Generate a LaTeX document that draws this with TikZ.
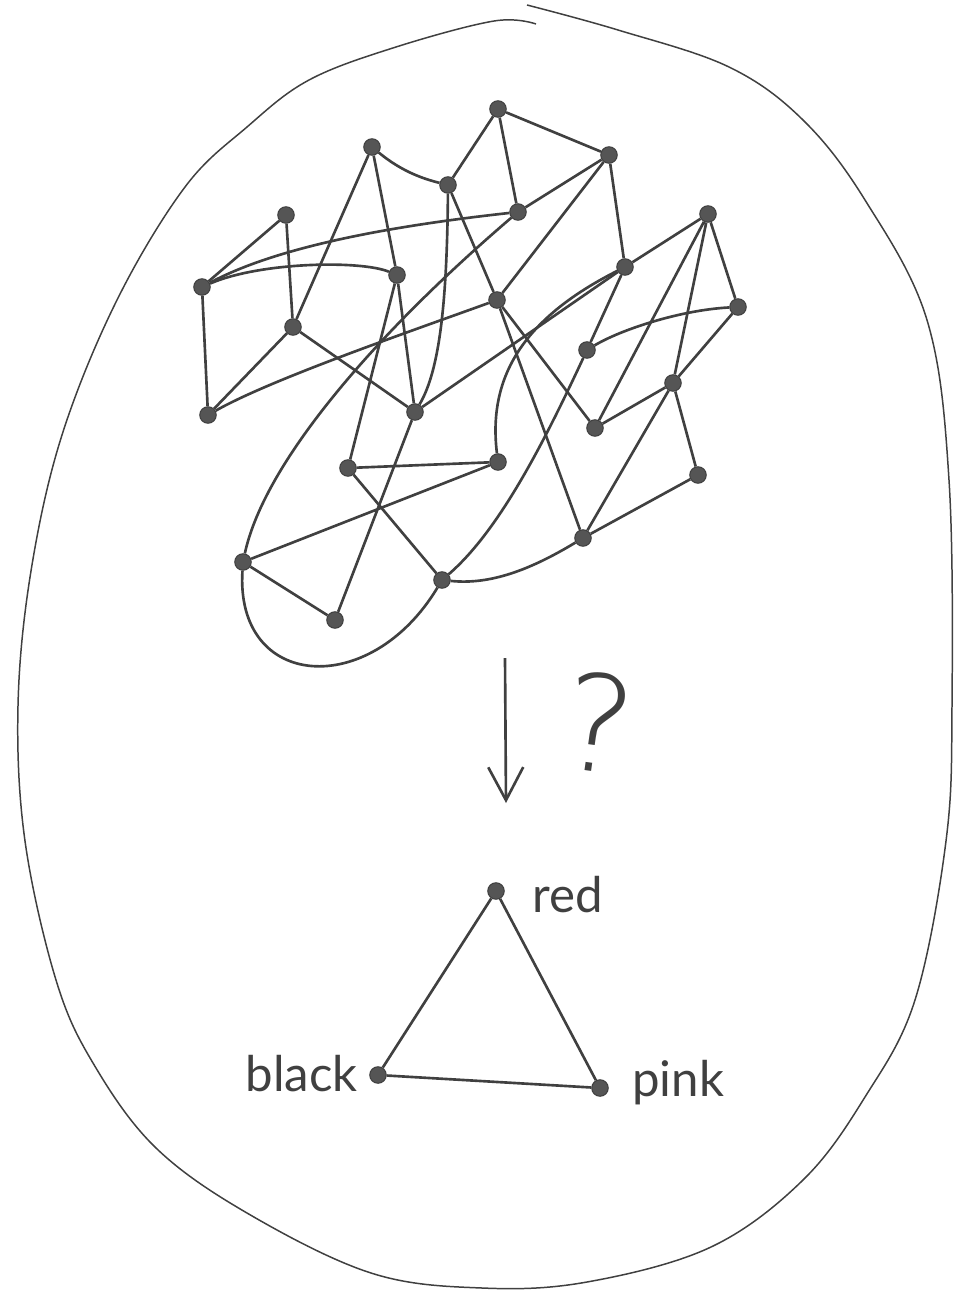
\documentclass[tikz,border=0pt]{standalone}
\usepackage{fontspec}
\setmainfont{Lato}
\newfontfamily\thinfont{DejaVu Sans ExtraLight}
\usepackage{xcolor}
\usetikzlibrary{arrows.meta}
\definecolor{ink}{HTML}{404040}
\definecolor{dotc}{HTML}{555555}
\tikzset{
  vtx/.style={circle, fill=dotc, draw=ink, line width=0.6pt, inner sep=0pt,
              minimum size=0.33cm},
  Eg/.style={draw=ink, line width=1.5pt},
  Rim/.style={draw=ink, line width=0.85pt},
  Lab/.style={font=\fontsize{28}{32}\selectfont, text=ink, inner sep=0pt},
  Harr/.style={-{Straight Barb[length=0.66cm, width=0.7cm, line width=1.5pt]}, Eg}
}

\begin{document}
\begin{tikzpicture}[x=0.02cm, y=-0.02cm]
  \useasboundingbox (0,0) rectangle (959,1292);

  \draw[Rim] plot[smooth, tension=0.6] coordinates {(527,5) (618,30) (729,67)
    (803,120) (865,200) (927,320) (949,480) (952,706) (946,841) (915,1000)
    (865,1097) (803,1180) (711,1247) (587,1282) (482,1288) (371,1273)
    (247,1213) (155,1147) (93,1063) (56,980) (25,841) (18,706) (31,571)
    (62,435) (117,300) (185,187) (247,127) (309,80) (396,47) (494,21) (536,24)};

  \node[vtx] (n1) at (286,215) {};
  \node[vtx] (n2) at (372,147) {};
  \node[vtx] (n3) at (448,185) {};
  \node[vtx] (n4) at (498,109) {};
  \node[vtx] (n5) at (518,212) {};
  \node[vtx] (n6) at (609,155) {};
  \node[vtx] (n7) at (708,214) {};
  \node[vtx] (n8) at (202,287) {};
  \node[vtx] (n9) at (397,275) {};
  \node[vtx] (n10) at (625,267) {};
  \node[vtx] (n11) at (497,300) {};
  \node[vtx] (n12) at (738,307) {};
  \node[vtx] (n13) at (293,327) {};
  \node[vtx] (n14) at (587,350) {};
  \node[vtx] (n15) at (673,383) {};
  \node[vtx] (n16) at (208,415) {};
  \node[vtx] (n17) at (415,412) {};
  \node[vtx] (n18) at (595,428) {};
  \node[vtx] (n19) at (348,468) {};
  \node[vtx] (n20) at (498,462) {};
  \node[vtx] (n21) at (698,475) {};
  \node[vtx] (n22) at (583,538) {};
  \node[vtx] (n23) at (243,562) {};
  \node[vtx] (n24) at (442,580) {};
  \node[vtx] (n25) at (335,620) {};

  \draw[Eg] (n8)--(n1)--(n13)--(n2)--(n9)--(n17)--(n13)--(n16)--(n8);
  \draw[Eg] (n3)--(n4)--(n5)--(n6)--(n4);
  \draw[Eg] (n3)--(n11)--(n6)--(n10)--(n7)--(n12)--(n15)--(n7)--(n18);
  \draw[Eg] (n9)--(n19)--(n20)--(n23)--(n25)--(n17)--(n10)--(n14);
  \draw[Eg] (n11)--(n18)--(n15)--(n21)--(n22)--(n15);
  \draw[Eg] (n11)--(n22);
  \draw[Eg] (n19)--(n24);

  \draw[Eg] (n2) .. controls (400,170) and (420,178) .. (n3);
  \draw[Eg] (n8) .. controls (260,262) and (360,260) .. (n9);
  \draw[Eg] (n8) .. controls (280,245) and (400,225) .. (n5);
  \draw[Eg] (n5) .. controls (380,330) and (265,460) .. (n23);
  \draw[Eg] (n23) .. controls (235,690) and (370,700) .. (n24);
  \draw[Eg] (n14) .. controls (545,440) and (500,530) .. (n24);
  \draw[Eg] (n10) .. controls (520,320) and (488,380) .. (n20);
  \draw[Eg] (n11) .. controls (400,335) and (270,380) .. (n16);
  \draw[Eg] (n12) .. controls (680,310) and (620,330) .. (n14);
  \draw[Eg] (n22) .. controls (530,570) and (490,585) .. (n24);
  \draw[Eg] (n3) .. controls (447,300) and (440,370) .. (n17);

  \coordinate (arrTop) at (505,658);
  \coordinate (arrTip) at (506,803);
  \draw[Harr] (arrTop) -- (arrTip);
  \node[text=ink, font=\thinfont\fontsize{76}{76}\selectfont, rotate=-8,
        inner sep=0pt] (qm) at (598,722) {?};

  \node[vtx] (red) at (496,891) {};
  \node[vtx] (black) at (378,1075) {};
  \node[vtx] (pink) at (600,1088) {};
  \draw[Eg] (red)--(black)--(pink)--(red);

  \node[Lab, anchor=base west] (tred) at (532,912) {red};
  \node[Lab, anchor=base east] (tblack) at (358,1091) {black};
  \node[Lab, anchor=base west] (tpink) at (632,1096) {pink};
\end{tikzpicture}
\end{document}
